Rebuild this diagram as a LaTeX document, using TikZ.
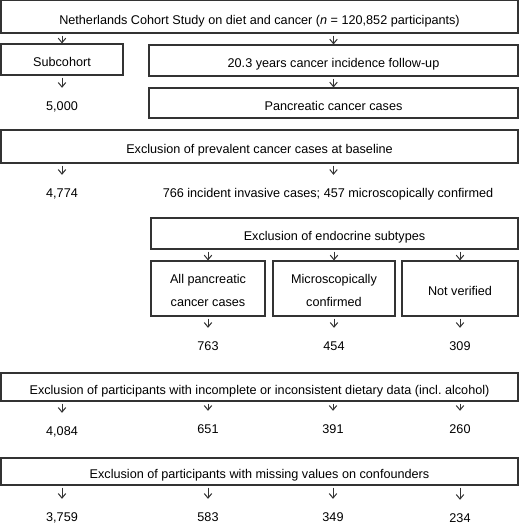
\documentclass[tikz,border=0pt]{standalone}
\usepackage{fontspec}
\setmainfont{Liberation Sans}
\usetikzlibrary{arrows.meta}
\definecolor{linec}{HTML}{333333}
\begin{document}
\begin{tikzpicture}[x={(1pt,0)},y={(0,-1pt)},
  every node/.style={font=\fontsize{12.65}{23}\selectfont, text=black},
  box/.style={draw=linec, line width=1.1pt, inner sep=0pt, align=center, text height=16pt, text depth=2pt},
  box2/.style={box, text height=37.6pt, text depth=2.6pt},
  num/.style={inner sep=0pt, minimum height=36pt, text height=9pt, text depth=0pt},
  arr/.style={draw=linec, line width=1pt, -{Straight Barb[length=4.5pt,width=7.5pt]}}]
\useasboundingbox (0,0) rectangle (520,527);
% boxes
\node[box, minimum width=517pt, minimum height=32.5pt, text height=17pt] (top) at (259.5,16.75) {Netherlands Cohort Study on diet and cancer (\textit{n} = 120,852 participants)};
\node[box, minimum width=122pt, minimum height=31pt] (sub) at (62,59.5) {Subcohort};
\node[box, minimum width=369pt, minimum height=31pt] (fu) at (333.5,60.5) {20.3 years cancer incidence follow-up};
\node[box, minimum width=369pt, minimum height=30pt] (panc) at (333.5,103) {Pancreatic cancer cases};
\node[box, minimum width=517pt, minimum height=33pt] (prev) at (259.5,146.5) {Exclusion of prevalent cancer cases at baseline};
\node[box, minimum width=367pt, minimum height=31pt] (endo) at (334.5,233.5) {Exclusion of endocrine subtypes};
\node[box2, minimum width=114pt, minimum height=55pt] (b1) at (208,288.5) {All pancreatic\\cancer cases};
\node[box2, minimum width=122pt, minimum height=55pt] (b2) at (334,288.5) {Microscopically\\confirmed};
\node[box, minimum width=116pt, minimum height=55pt] (b3) at (460,288.5) {Not verified};
\node[box, minimum width=517pt, minimum height=28pt] (diet) at (259.5,387) {Exclusion of participants with incomplete or inconsistent dietary data (incl.\ alcohol)};
\node[box, minimum width=517pt, minimum height=27pt] (conf) at (259.5,471.5) {Exclusion of participants with missing values on confounders};
% numbers
\node[num] (n5000) at (62,106) {5,000};
\node[num] (n4774) at (62,193) {4,774};
\node[num] (inc) at (328,193) {766 incident invasive cases; 457 microscopically confirmed};
\node[num] (n763) at (208,346) {763};
\node[num] (n454) at (334,346) {454};
\node[num] (n309) at (460,346) {309};
\node[num] (n4084) at (62,431) {4,084};
\node[num] (n651) at (208,429) {651};
\node[num] (n391) at (333,429) {391};
\node[num] (n260) at (460,429) {260};
\node[num] (n3759) at (62,517) {3,759};
\node[num] (n583) at (208,517) {583};
\node[num] (n349) at (333,517) {349};
\node[num] (n234) at (460,518) {234};
% arrows
\draw[arr] ([yshift=-2pt]top.south -| sub.north) -- (sub.north);
\draw[arr] ([yshift=-2pt]top.south -| fu.north) -- (fu.north);
\draw[arr] ([yshift=-2pt]sub.south) -- (n5000.north);
\draw[arr] ([yshift=-2pt]fu.south) -- (panc.north);
\draw[arr] ([yshift=-2pt]prev.south -| n4774.north) -- (n4774.north);
\draw[arr] ([yshift=-2pt]prev.south -| fu.south) -- (inc.north -| fu.south);
\draw[arr] ([yshift=-2pt]endo.south -| b1.north) -- (b1.north);
\draw[arr] ([yshift=-2pt]endo.south -| b2.north) -- (b2.north);
\draw[arr] ([yshift=-2pt]endo.south -| b3.north) -- (b3.north);
\draw[arr] ([yshift=-2pt]b1.south) -- (n763.north);
\draw[arr] ([yshift=-2pt]b2.south) -- (n454.north);
\draw[arr] ([yshift=-2pt]b3.south) -- (n309.north);
\foreach \n in {n4084,n651,n391,n260}
  \draw[arr] ([yshift=-2pt]diet.south -| \n.north) -- (\n.north);
\foreach \n in {n3759,n583,n349,n234}
  \draw[arr] ([yshift=-2pt]conf.south -| \n.north) -- (\n.north);
\end{tikzpicture}
\end{document}
